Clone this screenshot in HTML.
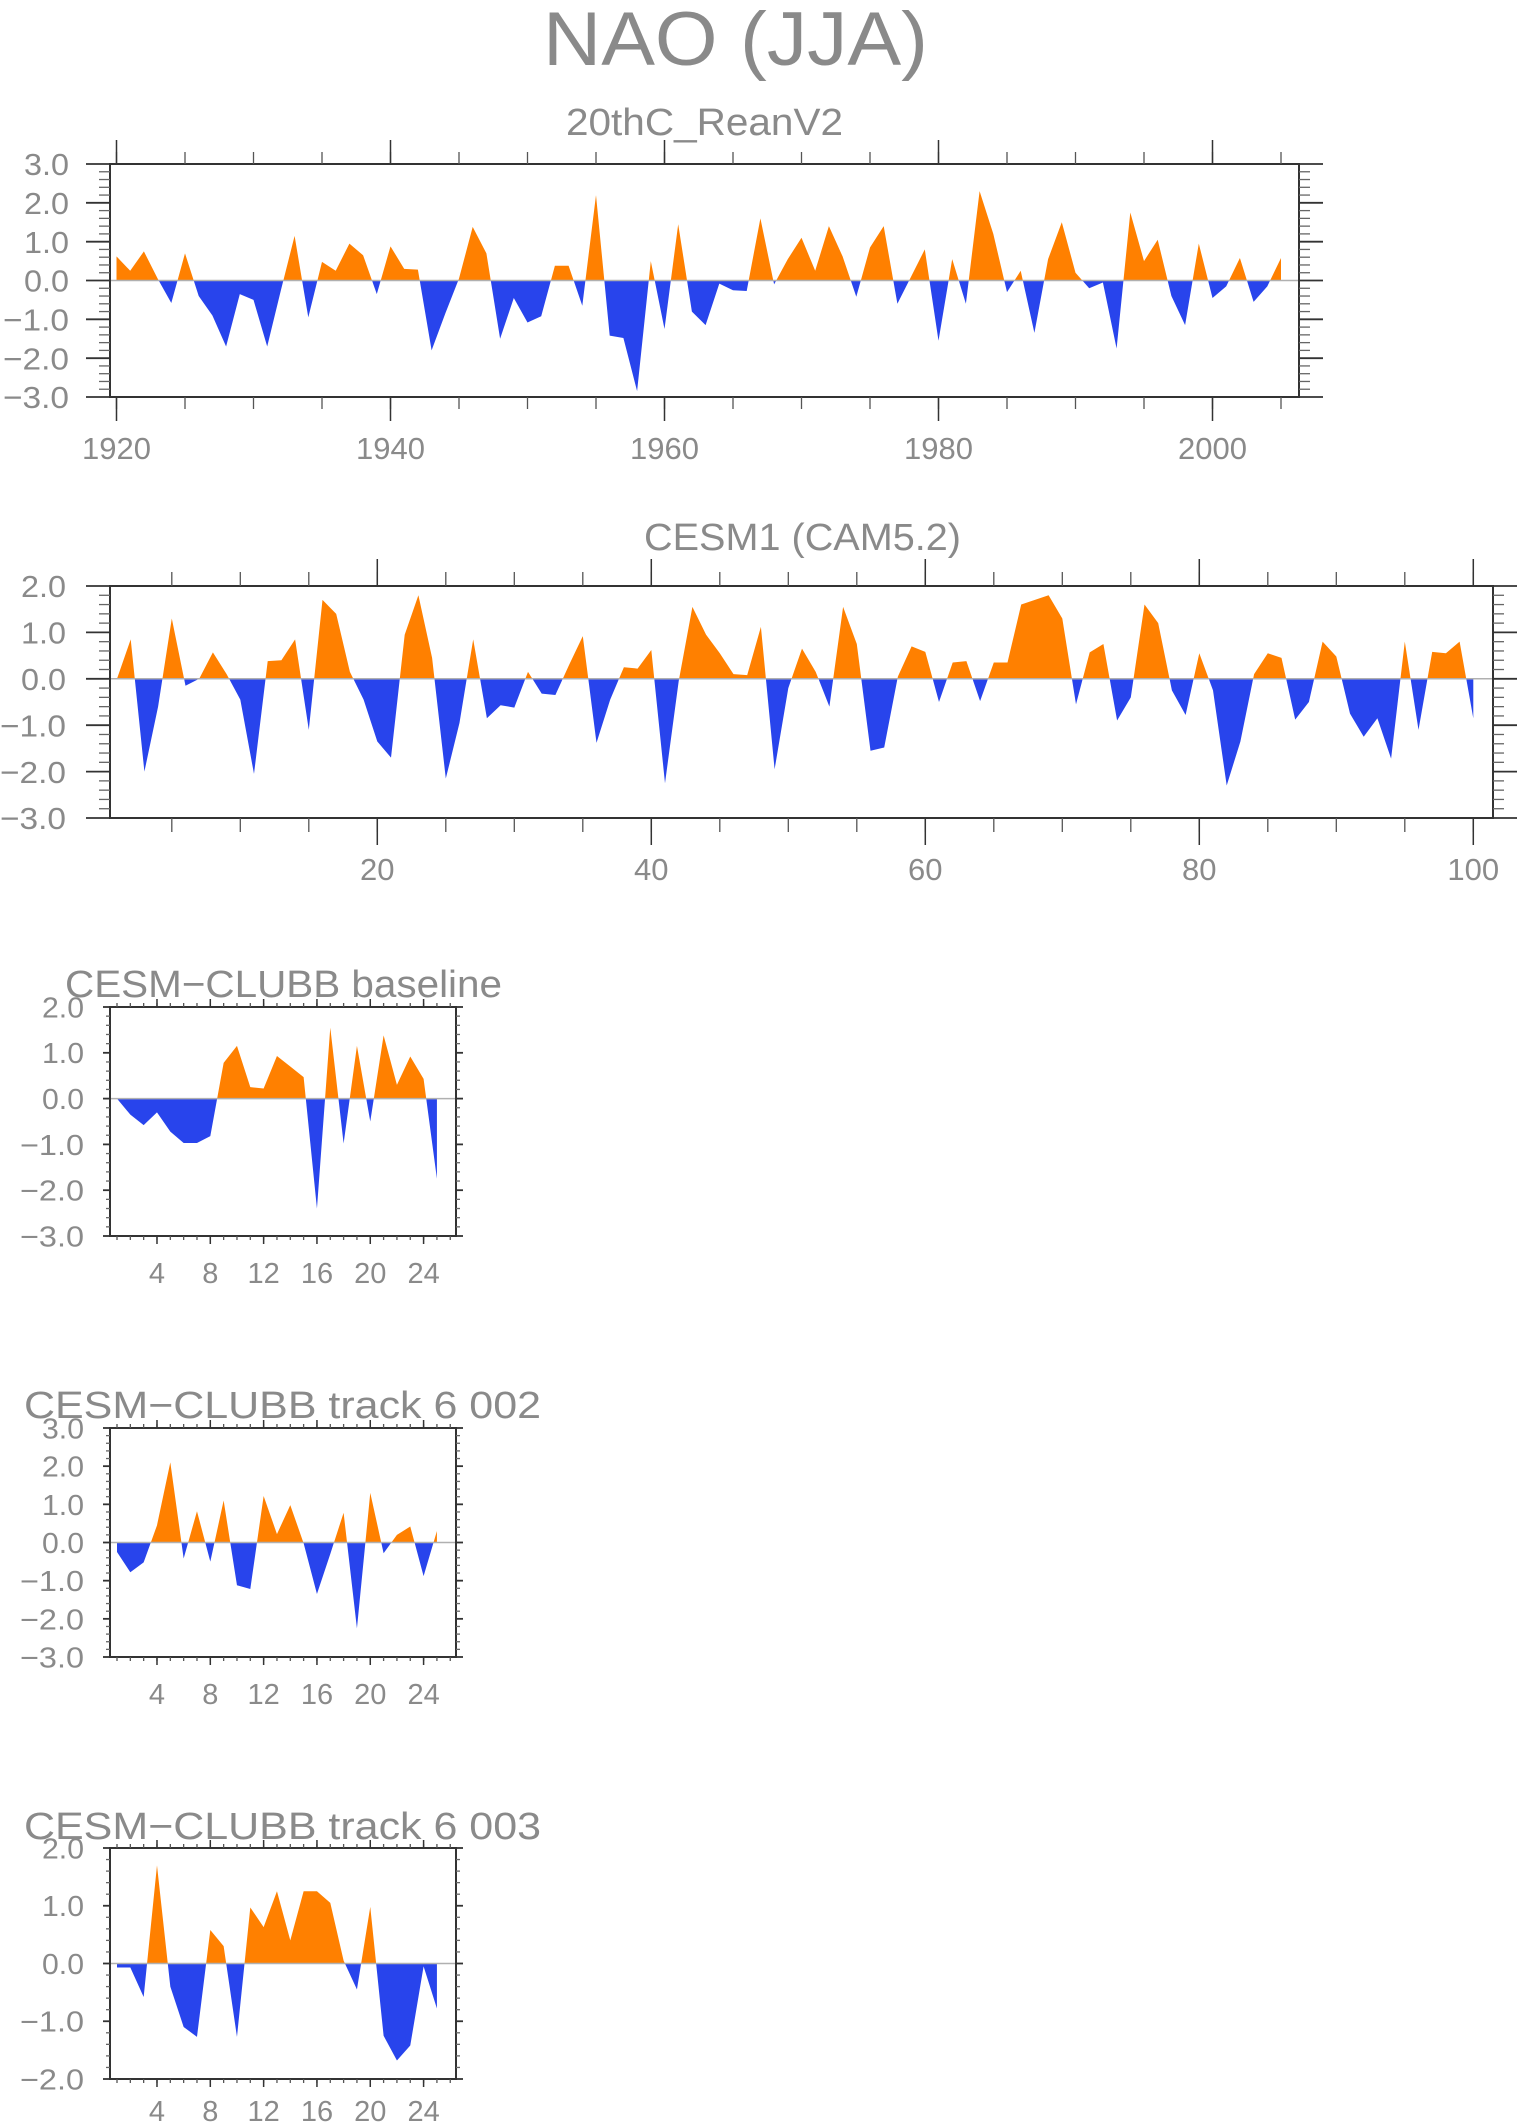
<!DOCTYPE html>
<html><head><meta charset="utf-8"><style>
html,body{margin:0;padding:0;background:#fff;}
svg{display:block;}
text{font-family:"Liberation Sans",sans-serif;fill:#8a8a8a;}
</style></head><body>
<svg id="chart" width="1519" height="2125" viewBox="0 0 1519 2125" xmlns="http://www.w3.org/2000/svg">
<rect x="0" y="0" width="1519" height="2125" fill="#fff"/>
<text x="543" y="65" font-size="76" textLength="385" lengthAdjust="spacingAndGlyphs">NAO (JJA)</text>
</svg>
<script>
const reanYears=[];for(let y=1920;y<=2005;y++)reanYears.push(y);
const reanValues=[0.62,0.25,0.75,0.05,-0.58,0.7,-0.4,-0.9,-1.7,-0.35,-0.5,-1.7,-0.25,1.15,-0.95,0.48,0.25,0.95,0.65,-0.35,0.88,0.3,0.28,-1.8,-0.85,0.05,1.38,0.7,-1.5,-0.45,-1.08,-0.92,0.38,0.38,-0.65,2.2,-1.42,-1.48,-2.85,0.5,-1.25,1.45,-0.8,-1.15,-0.08,-0.25,-0.27,1.6,-0.1,0.55,1.1,0.25,1.4,0.62,-0.42,0.85,1.4,-0.6,0.1,0.8,-1.55,0.55,-0.6,2.3,1.2,-0.3,0.25,-1.35,0.55,1.5,0.2,-0.2,-0.05,-1.75,1.75,0.5,1.05,-0.4,-1.15,0.95,-0.45,-0.15,0.58,-0.55,-0.15,0.58];
const cesmYears=[];for(let i=1;i<=100;i++)cesmYears.push(i);
const cesmValues=[0.0,0.85,-2.0,-0.6,1.3,-0.15,0.0,0.57,0.1,-0.45,-2.05,0.38,0.4,0.85,-1.1,1.7,1.4,0.15,-0.45,-1.35,-1.7,0.95,1.8,0.45,-2.15,-0.95,0.85,-0.85,-0.57,-0.62,0.15,-0.32,-0.35,0.3,0.92,-1.38,-0.45,0.25,0.22,0.62,-2.25,-0.05,1.55,0.95,0.55,0.1,0.08,1.12,-1.95,-0.2,0.65,0.15,-0.6,1.55,0.75,-1.55,-1.48,0.05,0.7,0.58,-0.5,0.35,0.38,-0.48,0.35,0.35,1.6,1.7,1.8,1.3,-0.55,0.57,0.75,-0.9,-0.4,1.6,1.2,-0.25,-0.78,0.55,-0.25,-2.3,-1.35,0.1,0.55,0.45,-0.88,-0.5,0.8,0.48,-0.75,-1.25,-0.85,-1.72,0.8,-1.1,0.58,0.55,0.8,-0.85];
const clubbYears=[];for(let i=1;i<=25;i++)clubbYears.push(i);
const baselineValues=[0.0,-0.35,-0.58,-0.3,-0.72,-0.97,-0.97,-0.82,0.78,1.15,0.25,0.22,0.93,0.7,0.47,-2.4,1.55,-0.98,1.15,-0.5,1.38,0.3,0.92,0.43,-1.75];
const track002Values=[-0.25,-0.78,-0.52,0.45,2.1,-0.42,0.82,-0.5,1.1,-1.12,-1.22,1.22,0.22,0.98,-0.02,-1.35,-0.3,0.78,-2.25,1.3,-0.28,0.2,0.42,-0.88,0.3];
const track003Values=[-0.07,-0.07,-0.58,1.7,-0.4,-1.1,-1.27,0.58,0.3,-1.27,0.97,0.63,1.25,0.4,1.25,1.25,1.05,0.05,-0.45,0.98,-1.25,-1.68,-1.42,-0.05,-0.78];
const bigYTicks=["−3.0","−2.0","−1.0","0.0","1.0","2.0","3.0"];

const NS="http://www.w3.org/2000/svg";
const svg=document.getElementById('chart');
function mk(tag,attrs,parent){const e=document.createElementNS(NS,tag);for(const k in attrs)e.setAttribute(k,attrs[k]);(parent||svg).appendChild(e);return e;}

function panel(o){
  const g=mk('g',{});
  
  
  const sx=v=>o.x0px+(v-o.x0)*o.xs;
  const sy=v=>o.b-(v-o.ymin)/(o.ymax-o.ymin)*(o.b-o.t);
  const tt=mk('text',{x:o.titleX,y:o.titleY,'font-size':o.titleSize,textLength:o.titleLen,lengthAdjust:'spacingAndGlyphs'},g);
  tt.textContent=o.title;
  
  
  const pts=[];
  for(let i=0;i<o.xs_.length;i++){
    const x=o.xs_[i],v=o.vals[i];
    if(i>0){const px=o.xs_[i-1],pv=o.vals[i-1];
      if((pv>0&&v<0)||(pv<0&&v>0)){const f=pv/(pv-v);pts.push([px+f*(x-px),0]);}}
    pts.push([x,v]);
  }
  const mkPoly=(clamp,color,nm)=>{
    let d='M'+sx(pts[0][0])+','+sy(0);
    pts.forEach(p=>{d+='L'+sx(p[0]).toFixed(2)+','+sy(clamp(p[1])).toFixed(2);});
    d+='L'+sx(pts[pts.length-1][0])+','+sy(0)+'Z';
    const p=mk('path',{d:d,fill:color},g);
    
    
  };
  mkPoly(v=>Math.max(v,0),'#ff8000','positive-anomaly-area');
  mkPoly(v=>Math.min(v,0),'#2844ec','negative-anomaly-area');
  const zl=mk('line',{x1:o.l,x2:o.r,y1:sy(0),y2:sy(0),stroke:'#b0b0b0','stroke-width':1.5},g);
  
  
  const fr=mk('rect',{x:o.l,y:o.t,width:o.r-o.l,height:o.b-o.t,fill:'none',stroke:'#333','stroke-width':2},g);
  
  
  o.xMinor.forEach(v=>{const x=sx(v);
    mk('line',{x1:x,x2:x,y1:o.t,y2:o.t-o.minLen,stroke:'#555','stroke-width':1.3},g);
    mk('line',{x1:x,x2:x,y1:o.b,y2:o.b+o.minLen,stroke:'#555','stroke-width':1.3},g);});
  o.xMajor.forEach((v,i)=>{const x=sx(v);
    mk('line',{x1:x,x2:x,y1:o.t,y2:o.t-o.majLen,stroke:'#333','stroke-width':1.5},g);
    mk('line',{x1:x,x2:x,y1:o.b,y2:o.b+o.majLen,stroke:'#333','stroke-width':1.5},g);
    const t=mk('text',{x:x,y:o.xLabY,'font-size':o.labSize,'text-anchor':'middle'},g);
    t.textContent=o.xLabels[i];
    
    });
  for(let k=0;k<=Math.round((o.ymax-o.ymin)/0.2);k++){
    const v=o.ymin+k*0.2;const y=sy(v);const major=(k%5===0);
    const len=major?o.yMaj:o.yMin;
    mk('line',{x1:o.l,x2:o.l-len,y1:y,y2:y,stroke:major?'#333':'#666','stroke-width':major?1.8:1.3},g);
    mk('line',{x1:o.r,x2:o.r+len,y1:y,y2:y,stroke:major?'#333':'#666','stroke-width':major?1.8:1.3},g);
    if(major){const lab=bigYTicks[Math.round(v)+3];
      const attrs={x:o.yLabX,y:y+o.labSize*0.36,'font-size':o.labSize,'text-anchor':'end'};
      if(lab.length>3){attrs.textLength=o.negLen;attrs.lengthAdjust='spacingAndGlyphs';}
      else{attrs.textLength=o.posLen;attrs.lengthAdjust='spacingAndGlyphs';}
      const t=mk('text',attrs,g);
      t.textContent=lab;
      
      }
  }
}
const range=(a,b,s)=>{const r=[];for(let v=a;v<=b+1e-9;v+=s)r.push(v);return r;};

panel({name:'panel-20thc-reanv2',title:'20thC_ReanV2',titleX:566,titleY:135,titleSize:38,titleLen:277,
  l:110,r:1299,t:164,b:397,x0:1920,x0px:116.5,xs:13.7,ymin:-3,ymax:3,xs_:reanYears,vals:reanValues,
  xMajor:range(1920,2000,20),xLabels:['1920','1940','1960','1980','2000'],xMinor:range(1920,2005,5),
  majLen:24,minLen:12,yMaj:24,yMin:11,xLabY:459,labSize:31,yLabX:69,posLen:45,negLen:66});
panel({name:'panel-cesm1-cam52',title:'CESM1 (CAM5.2)',titleX:644,titleY:550,titleSize:38,titleLen:317,
  l:110,r:1493,t:586,b:818,x0:1,x0px:117,xs:13.7,ymin:-3,ymax:2,xs_:cesmYears,vals:cesmValues,
  xMajor:range(20,100,20),xLabels:['20','40','60','80','100'],xMinor:range(5,100,5),
  majLen:27,minLen:14,yMaj:24,yMin:11,xLabY:880,labSize:31,yLabX:66,posLen:45,negLen:66});
const small=[['panel-clubb-baseline','CESM−CLUBB baseline',65,997,437,1007,1236,-3,2,baselineValues,1283],
 ['panel-clubb-track-6-002','CESM−CLUBB track 6 002',24,1418,517,1428,1657,-3,3,track002Values,1704],
 ['panel-clubb-track-6-003','CESM−CLUBB track 6 003',24,1839,517,1848,2079,-2,2,track003Values,2121]];
small.forEach(s=>panel({name:s[0],title:s[1],titleX:s[2],titleY:s[3],titleSize:38,titleLen:s[4],
  l:110,r:456,t:s[5],b:s[6],x0:1,x0px:117,xs:13.33,ymin:s[7],ymax:s[8],xs_:clubbYears,vals:s[9],
  xMajor:range(4,24,4),xLabels:['4','8','12','16','20','24'],xMinor:range(1,26,1),
  majLen:8,minLen:4,yMaj:7,yMin:4,xLabY:s[10],labSize:29,yLabX:84,posLen:42,negLen:64}));
</script>
</body></html>
